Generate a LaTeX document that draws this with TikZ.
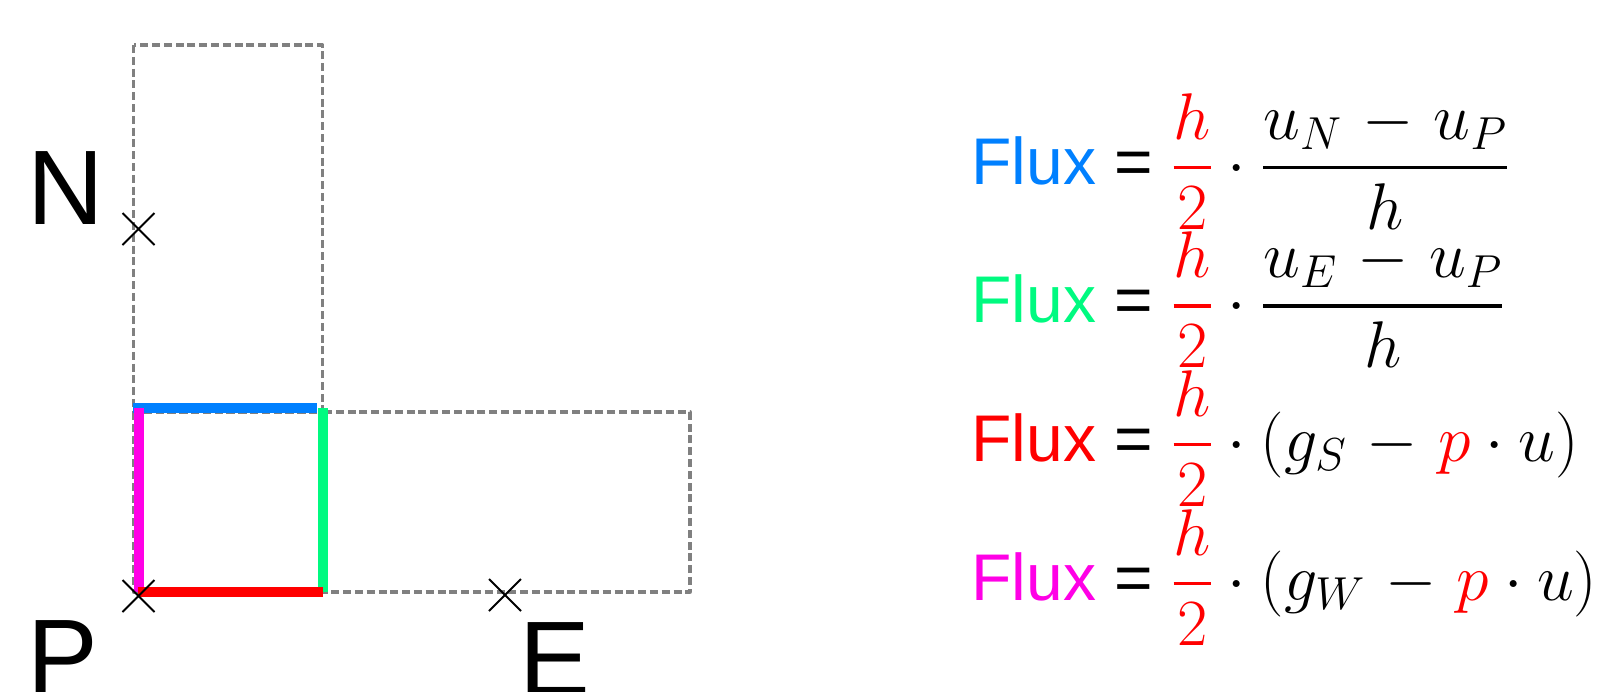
\RequirePackage{fix-cm}
\documentclass[tikz,border=0pt]{standalone}
\usepackage{fontspec}
\usepackage{amsmath}
\newfontfamily\arialf{Liberation Sans}
\usetikzlibrary{shapes.misc}
\definecolor{fluxblue}{RGB}{0,128,255}
\definecolor{fluxgreen}{RGB}{0,250,128}
\definecolor{fluxred}{RGB}{255,0,0}
\definecolor{fluxmag}{RGB}{255,0,230}
\definecolor{cellgray}{RGB}{128,128,128}
\newcommand{\wminus}{\mathbin{\mkern1.5mu-\mkern1.5mu}}
\newcommand{\tfr}[2]{\genfrac{}{}{1.8pt}{0}{#1}{#2}}
\begin{document}
\begin{tikzpicture}[x=0.5pt,y=-0.5pt,
  cell/.style={draw=cellgray, line width=1.65pt, dash pattern=on 4pt off 1.9pt, line join=round},
  edgeline/.style={line width=5pt},
  ptmark/.style={cross out, draw=black, line width=1pt, minimum size=15pt, inner sep=0pt},
  lbl/.style={font=\arialf\fontsize{53}{60}\selectfont, inner sep=0pt, anchor=base},
  eq/.style={font=\fontsize{33}{40}\selectfont, inner sep=0pt, anchor=base west}]
\useasboundingbox (0,0) rectangle (1600,691);
% cell corners
\coordinate (nw) at (133.5,45);
\coordinate (ne) at (322.5,45);
\coordinate (pw) at (133.5,412);
\coordinate (pe) at (322.5,412);
\coordinate (sw) at (133.5,592);
\coordinate (se) at (322.5,592);
\coordinate (ene) at (690,412);
\coordinate (ese) at (690,592);
% dashed cells
\draw[cell] (nw) rectangle (pe);
\draw[cell] (pw) rectangle (se);
\draw[cell] (pe) rectangle (ese);
% coloured edges of the P cell
\coordinate (b1) at (133,408);
\coordinate (b2) at (317,408);
\coordinate (m1) at (138.5,408);
\coordinate (m2) at (138.5,592);
\coordinate (g1) at (322.5,408);
\coordinate (g2) at (322.5,592);
\coordinate (r1) at (138,592);
\coordinate (r2) at (323,592);
\draw[edgeline, fluxblue] (b1) -- (b2);
\draw[edgeline, fluxmag] (m1) -- (m2);
\draw[edgeline, fluxgreen] (g1) -- (g2);
\draw[edgeline, fluxred] (r1) -- (r2);
% nodal points
\node[ptmark] (N) at (138.5,229) {};
\node[ptmark] (P) at (138.5,596) {};
\node[ptmark] (E) at (505,595) {};
% labels
\node[lbl] (Nl) at (66,224) {N};
\node[lbl] (Pl) at (63,693) {P};
\node[lbl] (El) at (555,695) {E};
% formulas
\node[eq] (f1) at (971,184) {{\arialf{\color{fluxblue}Flux} = }$\displaystyle{\color{fluxred}\tfr{h}{2}}\cdot\tfr{u_N\wminus u_P}{h}$};
\node[eq] (f2) at (971,322.5) {{\arialf{\color{fluxgreen}Flux} = }$\displaystyle{\color{fluxred}\tfr{h}{2}}\cdot\tfr{u_E\wminus u_P}{h}$};
\node[eq] (f3) at (971,461) {{\arialf{\color{fluxred}Flux} = }$\displaystyle{\color{fluxred}\tfr{h}{2}}\cdot(g_S\wminus{\color{fluxred}p}\cdot u)$};
\node[eq] (f4) at (971,600) {{\arialf{\color{fluxmag}Flux} = }$\displaystyle{\color{fluxred}\tfr{h}{2}}\cdot(g_W\wminus{\color{fluxred}p}\cdot u)$};
\end{tikzpicture}
\end{document}
